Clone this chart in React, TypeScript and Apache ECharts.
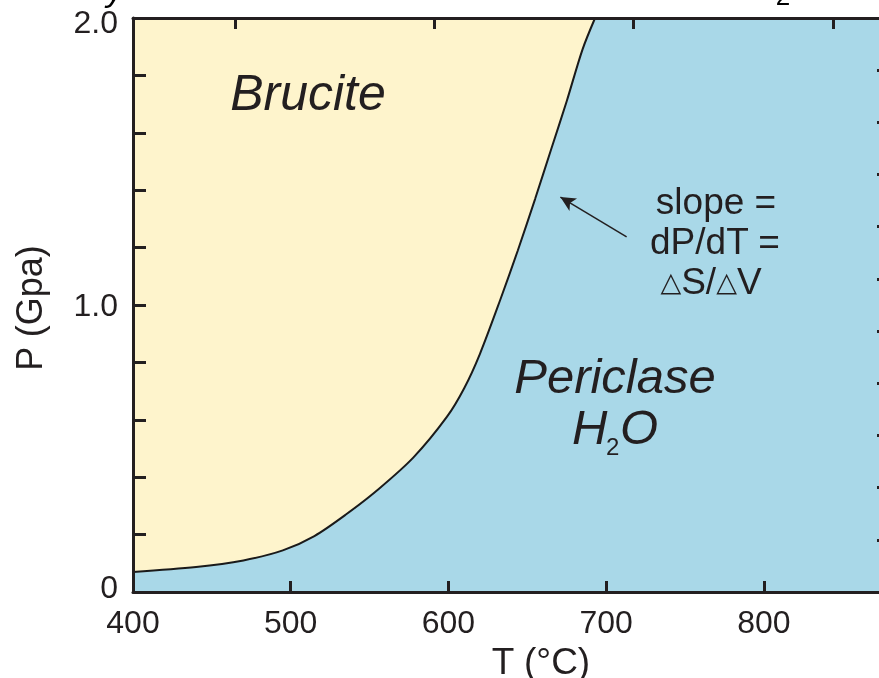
import React, { useEffect, useRef } from "react";
import * as echarts from "echarts";

// Brucite = Periclase + H2O reaction boundary (T in °C, P in GPa)
const temperatureC = [400, 440, 470, 495, 515, 535, 556, 578, 599, 610, 620, 633, 644, 655, 665, 675, 685, 693];
const pressureGPa = [0.07, 0.087, 0.11, 0.145, 0.195, 0.27, 0.36, 0.47, 0.61, 0.71, 0.83, 1.02, 1.19, 1.37, 1.54, 1.71, 1.89, 2.0];

const xTickLabels = [400, 500, 600, 700, 800];
const yLabelMap: Record<string, string> = { "0": "{lo|0}", "1": "1.0", "2": "{hi|2.0}" };
const topTickValues = [465, 591, 717, 844];
const rightTickCount = 11;
const arrowFrom = [713, 1.237];
const arrowTo = [671, 1.376];

export default function App() {
  const ref = useRef<HTMLDivElement>(null);
  useEffect(() => {
    const chart = echarts.init(ref.current!, null, { renderer: "svg" });
    const ink = "#231f20";
    const font = "'Liberation Sans', Arial, Helvetica, sans-serif";
    const axisLineStyle = { color: ink, width: 3 };
    const tickFont = { color: ink, fontSize: 32, fontFamily: font };
    chart.setOption({
      animation: false,
      grid: {
        left: 133,
        right: 10,
        top: 18,
        bottom: 86,
        show: true,
        backgroundColor: "#a9d8e8",
        borderWidth: 0,
      },
      xAxis: [
        {
          type: "value",
          position: "bottom",
          min: 400,
          max: 880,
          interval: 100,
          z: 10,
          axisLine: { show: true, onZero: false, lineStyle: axisLineStyle },
          axisTick: { show: true, inside: true, length: 11, lineStyle: axisLineStyle },
          axisLabel: {
            ...tickFont,
            margin: 14,
            showMaxLabel: false,
            formatter: (v: number) => (xTickLabels.includes(v) ? String(v) : ""),
          },
          splitLine: { show: false },
        },
        {
          type: "value",
          position: "top",
          min: 400,
          max: 880,
          z: 10,
          axisLine: { show: true, onZero: false, lineStyle: axisLineStyle },
          axisTick: {
            show: true,
            inside: true,
            length: 11,
            customValues: topTickValues,
            lineStyle: axisLineStyle,
          },
          axisLabel: { show: false },
          splitLine: { show: false },
        },
      ],
      yAxis: [
        {
          type: "value",
          position: "left",
          min: 0,
          max: 2,
          interval: 0.2,
          z: 10,
          axisLine: { show: true, onZero: false, lineStyle: axisLineStyle },
          axisTick: { show: true, inside: true, length: 13, lineStyle: axisLineStyle },
          axisLabel: {
            ...tickFont,
            margin: 15,
            formatter: (v: number) => {
              const k = String(Math.round(v * 10) / 10);
              return yLabelMap[k] ?? "";
            },
            rich: {
              lo: { ...tickFont, padding: [0, 0, 10, 0] },
              hi: { ...tickFont, padding: [8, 0, 0, 0] },
            },
          },
          splitLine: { show: false },
        },
        {
          type: "value",
          position: "right",
          min: 0,
          max: rightTickCount,
          interval: 1,
          z: 10,
          axisLine: { show: true, onZero: false, lineStyle: axisLineStyle },
          axisTick: { show: true, inside: true, length: 13, lineStyle: { color: ink, width: 3 } },
          axisLabel: { show: false },
          splitLine: { show: false },
        },
      ],
      series: [
        {
          type: "line",
          xAxisIndex: 0,
          yAxisIndex: 0,
          data: temperatureC.map((t, i) => [t, pressureGPa[i]]),
          smooth: 0.3,
          symbol: "none",
          lineStyle: { color: "#1a1a1a", width: 2 },
          areaStyle: { color: "#fef4cc", origin: "end", opacity: 1 },
          markLine: {
            silent: true,
            symbol: ["none", "arrow"],
            symbolSize: [11, 15],
            lineStyle: { color: ink, width: 1.5, type: "solid" },
            label: { show: false },
            data: [[{ coord: arrowFrom }, { coord: arrowTo }]],
          },
        },
      ],
      graphic: [
        {
          type: "group",
          z: 100,
          children: [
            {
              type: "text",
              x: 308,
              y: 93,
              z: 100,
              style: {
                text: "Brucite",
                fontSize: 50,
                fontStyle: "italic",
                fontFamily: font,
                fill: ink,
                align: "center",
                verticalAlign: "middle",
              },
            },
            {
              type: "text",
              x: 615,
              y: 376,
              z: 100,
              style: {
                text: "Periclase",
                fontSize: 49,
                fontStyle: "italic",
                fontFamily: font,
                fill: ink,
                align: "center",
                verticalAlign: "middle",
              },
            },
            {
              type: "text",
              x: 572,
              y: 427,
              z: 100,
              style: {
                text: "H",
                fontSize: 49,
                fontStyle: "italic",
                fontFamily: font,
                fill: ink,
                align: "left",
                verticalAlign: "middle",
              },
            },
            {
              type: "text",
              x: 606,
              y: 446,
              z: 100,
              style: {
                text: "2",
                fontSize: 24,
                fontFamily: font,
                fill: ink,
                align: "left",
                verticalAlign: "middle",
              },
            },
            {
              type: "text",
              x: 620,
              y: 427,
              z: 100,
              style: {
                text: "O",
                fontSize: 49,
                fontStyle: "italic",
                fontFamily: font,
                fill: ink,
                align: "left",
                verticalAlign: "middle",
              },
            },
            {
              type: "text",
              x: 716,
              y: 201,
              z: 100,
              style: {
                text: "slope =",
                fontSize: 37,
                fontFamily: font,
                fill: ink,
                align: "center",
                verticalAlign: "middle",
              },
            },
            {
              type: "text",
              x: 715,
              y: 241,
              z: 100,
              style: {
                text: "dP/dT =",
                fontSize: 37,
                fontFamily: font,
                fill: ink,
                align: "center",
                verticalAlign: "middle",
              },
            },
            {
              type: "text",
              x: 711,
              y: 281,
              z: 100,
              style: {
                text: "{t|△}S/{t|△}V",
                fontSize: 37,
                fontFamily: font,
                fill: ink,
                align: "center",
                verticalAlign: "middle",
                rich: {
                  t: { fontSize: 27, fontFamily: "'DejaVu Sans', sans-serif", fill: ink },
                },
              },
            },
            {
              type: "text",
              x: 541,
              y: 661,
              z: 100,
              style: {
                text: "T (°C)",
                fontSize: 37,
                fontFamily: font,
                fill: ink,
                align: "center",
                verticalAlign: "middle",
              },
            },
            {
              type: "text",
              x: 29,
              y: 308,
              rotation: Math.PI / 2,
              z: 100,
              style: {
                text: "P (Gpa)",
                fontSize: 36,
                fontFamily: font,
                fill: ink,
                align: "center",
                verticalAlign: "middle",
              },
            },
            {
              type: "text",
              x: 115,
              y: 6,
              z: 100,
              style: {
                text: "y",
                fontSize: 34,
                fontStyle: "italic",
                fontFamily: font,
                fill: "#000",
                align: "center",
                verticalAlign: "bottom",
              },
            },
            {
              type: "text",
              x: 783,
              y: 9,
              z: 100,
              style: {
                text: "2",
                fontSize: 26,
                fontFamily: font,
                fill: "#000",
                align: "center",
                verticalAlign: "bottom",
              },
            },
          ],
        },
      ],
    });
    return () => chart.dispose();
  }, []);
  return (
    <div
      ref={ref}
      style={{ position: "fixed", left: 0, top: 0, width: 900, height: 678 }}
    />
  );
}
